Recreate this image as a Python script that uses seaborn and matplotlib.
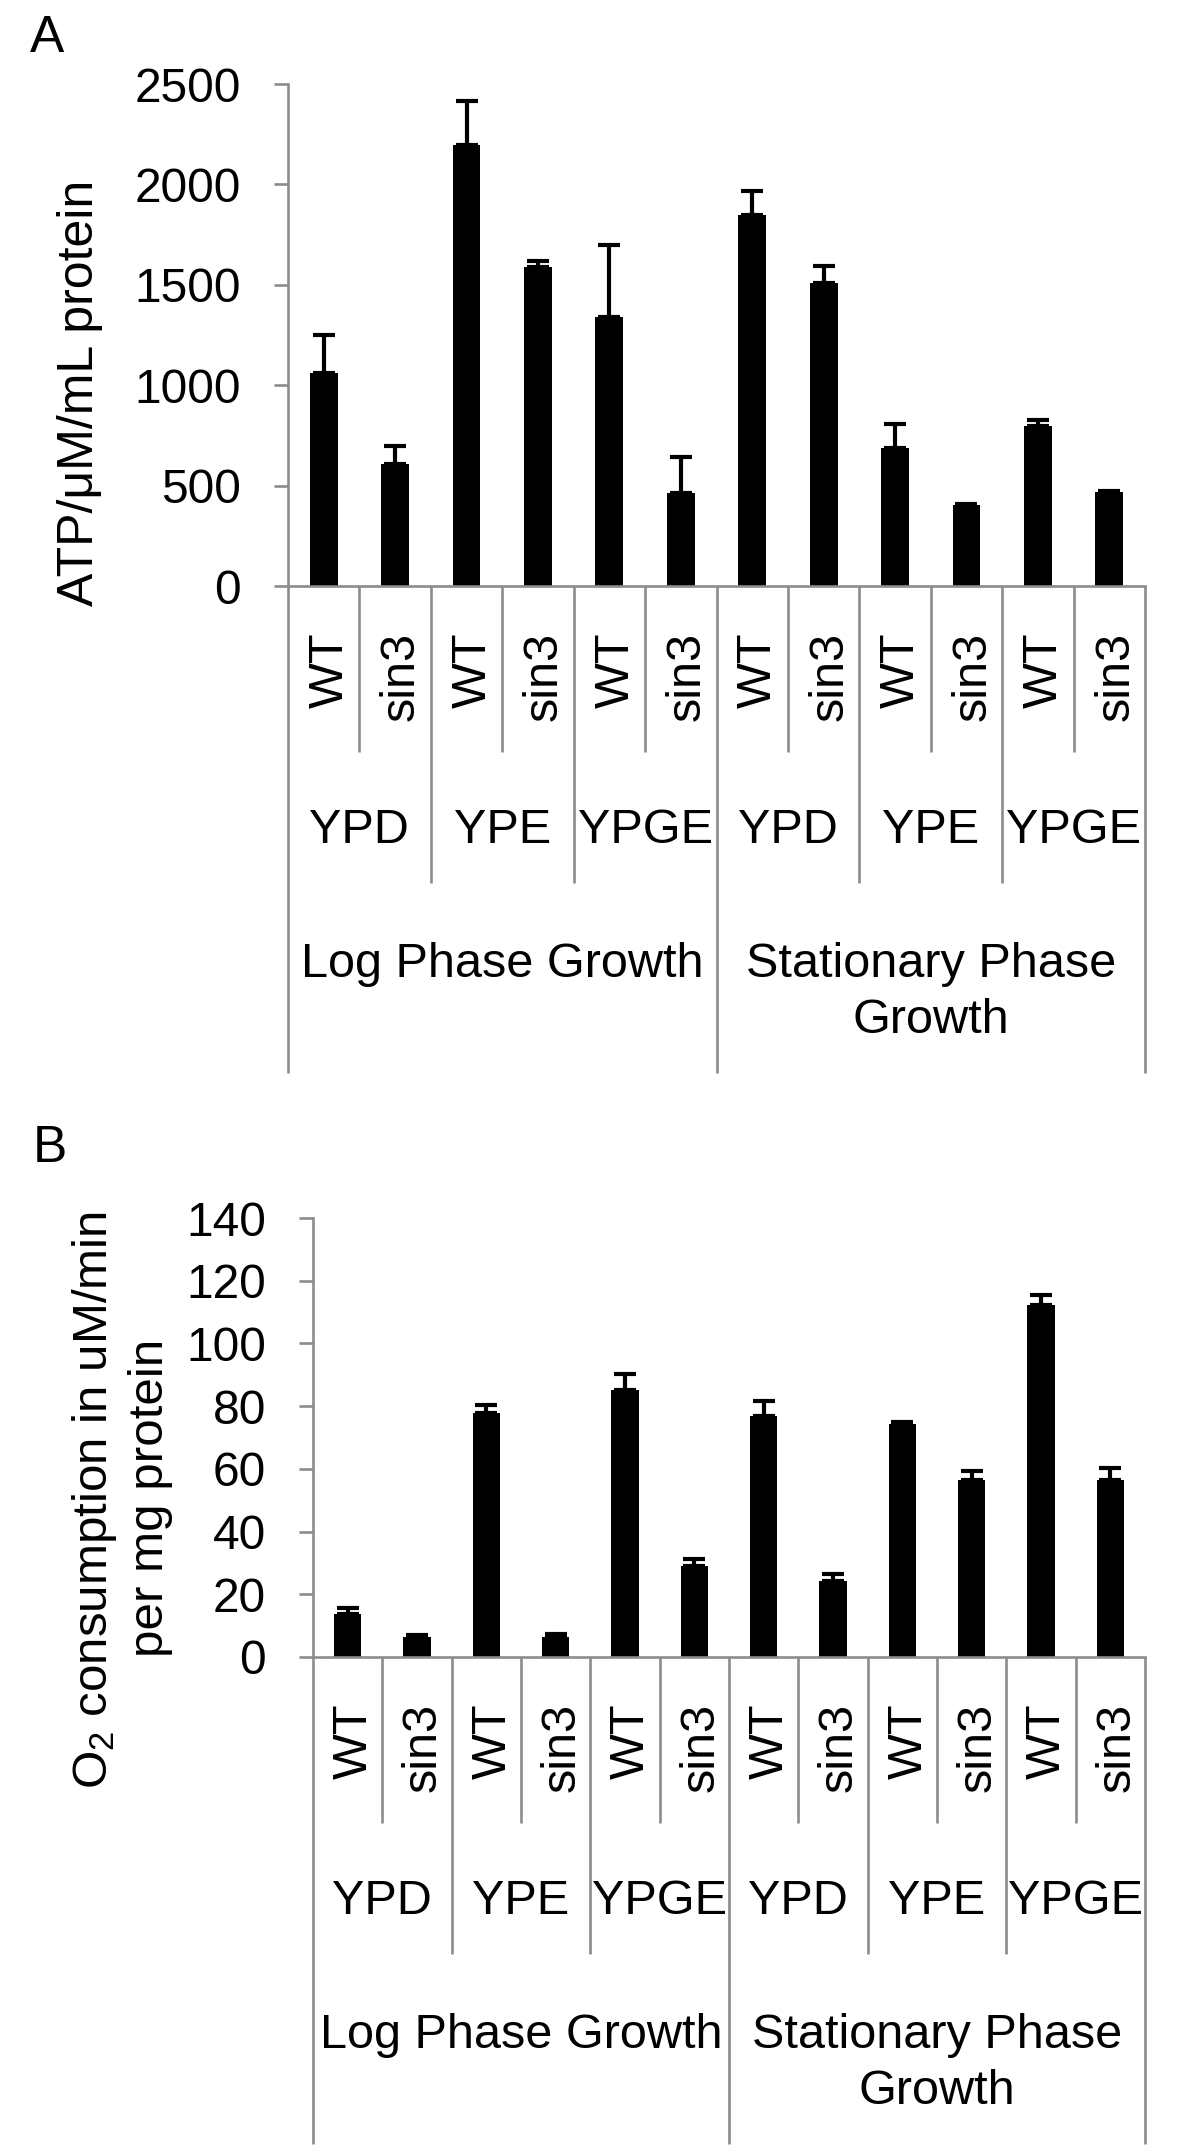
import matplotlib
matplotlib.use('Agg')
import matplotlib.pyplot as plt
import matplotlib.transforms as mtransforms
import seaborn as sns
import pandas as pd
import numpy as np

# ---------------- data ----------------
strains = ["WT", "sin3"] * 6
media = ["YPD", "YPD", "YPE", "YPE", "YPGE", "YPGE"] * 2
phases = ["Log Phase Growth"] * 6 + ["Stationary Phase Growth"] * 6
phase_lines = [["Log Phase Growth"], ["Stationary Phase", "Growth"]]

atp = [1063, 606, 2195, 1589, 1339, 463, 1848, 1510, 687, 404, 795, 467]
atp_err = [187, 93, 220, 31, 358, 181, 121, 84, 122, 6, 34, 8]
atp_ticks = [0, 500, 1000, 1500, 2000, 2500]

o2 = [13.6, 6.3, 77.7, 6.3, 85.1, 29.1, 76.7, 24.2, 74.3, 56.6, 112.2, 56.6]
o2_err = [1.9, 0.6, 2.7, 1.0, 5.3, 2.3, 4.9, 2.2, 0.6, 2.8, 3.1, 3.7]
o2_ticks = [0, 20, 40, 60, 80, 100, 120, 140]

cond_ids = [f"{p}|{m}|{s}|{i}" for i, (p, m, s) in enumerate(zip(phases, media, strains))]

# ---------------- style ----------------
sns.set_style('white')
plt.rcParams['font.family'] = ['Liberation Sans', 'DejaVu Sans']
plt.rcParams['text.color'] = 'black'
plt.rcParams['axes.labelcolor'] = 'black'
plt.rcParams['mathtext.fontset'] = 'custom'
plt.rcParams['mathtext.rm'] = 'Liberation Sans'
plt.rcParams['mathtext.it'] = 'Liberation Sans:italic'

W, H = 1200, 2149
fig = plt.figure(figsize=(W / 100, H / 100), dpi=100)
GRAY = '#8c8c8c'
LW = 1.9
FS_TICK = 34.5
FS_CAT = 35


def fx(p):
    return p / W


def fy(p):
    return 1 - p / H


def panel(rect, values, errors, ticks):
    left, top, right, bottom = rect
    ax = fig.add_axes([fx(left), fy(bottom), (right - left) / W, (bottom - top) / H])
    df = pd.DataFrame({'cond': cond_ids, 'val': values})
    sns.barplot(data=df, x='cond', y='val', order=cond_ids, color='black',
                saturation=1, width=0.39, errorbar=None, ax=ax, linewidth=0)
    ax.errorbar(np.arange(len(values)), values,
                yerr=[np.zeros(len(values)), errors], fmt='none',
                ecolor='black', elinewidth=3, capsize=8, capthick=3, zorder=3)
    ax.set_xlim(-0.5, len(values) - 0.5)
    ax.set_ylim(0, ticks[-1])
    ax.set_yticks(ticks)
    ax.set_yticklabels([str(t) for t in ticks])
    ax.set_xticks([])
    ax.set_xlabel('')
    ax.set_ylabel('')
    ax.tick_params(axis='y', left=True, direction='out', length=10, width=LW,
                   color=GRAY, pad=24, labelsize=FS_TICK, labelcolor='black')
    for s in ('top', 'right'):
        ax.spines[s].set_visible(False)
    for s in ('left', 'bottom'):
        ax.spines[s].set_color(GRAY)
        ax.spines[s].set_linewidth(LW)

    trans = mtransforms.blended_transform_factory(ax.transData, fig.transFigure)
    # divider lines
    for k in range(len(values) + 1):
        if k in (0, 6, 12):
            depth = 487
        elif k % 2 == 0:
            depth = 297
        else:
            depth = 166
        ax.plot([k - 0.5, k - 0.5], [fy(bottom), fy(bottom + depth)], transform=trans,
                color=GRAY, lw=LW, clip_on=False, solid_capstyle='butt')
    # strain labels
    toff = mtransforms.offset_copy(trans, fig=fig, x=19, y=0, units='dots')
    for i, s in enumerate(strains):
        ax.text(i, fy(bottom + 46), s, transform=toff, rotation=90,
                rotation_mode='anchor', ha='right', va='baseline', fontsize=FS_CAT)
    # media labels
    for g in range(6):
        ax.text(2 * g + 0.5, fy(bottom + 257), media[2 * g], transform=trans,
                ha='center', va='baseline', fontsize=FS_CAT)
    # phase labels
    for p, lines in enumerate(phase_lines):
        for j, line in enumerate(lines):
            ax.text(6 * p + 2.5, fy(bottom + 391 + 56 * j), line, transform=trans,
                    ha='center', va='baseline', fontsize=FS_CAT)
    return ax


axA = panel((288, 84, 1145, 586), atp, atp_err, atp_ticks)
axB = panel((313, 1218, 1145, 1657), o2, o2_err, o2_ticks)

fig.text(fx(93), fy(393), 'ATP/\u03bcM/mL protein', rotation=90, rotation_mode='anchor',
         ha='center', va='baseline', fontsize=36)
fig.text(fx(107), fy(1500), 'O$_\\mathregular{2}$ consumption in uM/min', rotation=90,
         rotation_mode='anchor', ha='center', va='baseline', fontsize=35.5)
fig.text(fx(163), fy(1498), 'per mg protein', rotation=90, rotation_mode='anchor',
         ha='center', va='baseline', fontsize=35.5)

fig.text(fx(30), fy(52), 'A', fontsize=37, va='baseline', ha='left')
fig.text(fx(33), fy(1162), 'B', fontsize=37, va='baseline', ha='left')

fig.savefig('out.png', dpi=100)
